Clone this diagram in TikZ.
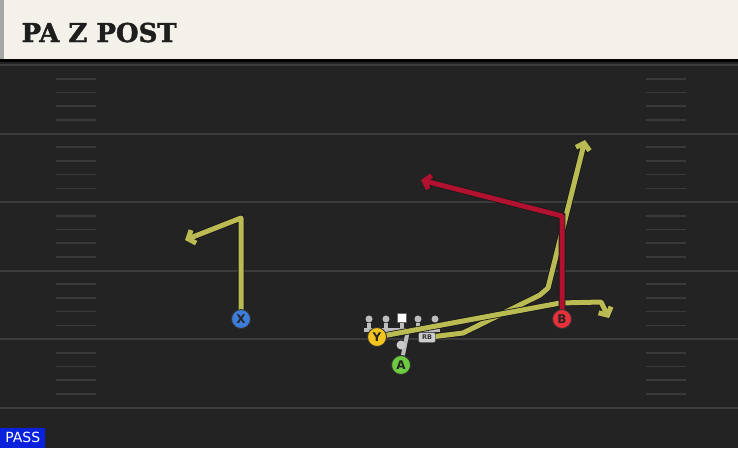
\documentclass[tikz,border=0pt]{standalone}
\usepackage{fontspec}
\setmainfont{DejaVu Sans}
\newfontfamily\titlefont{DejaVu Serif}[BoldFeatures={FakeBold=1.6}]
\usetikzlibrary{arrows.meta}
\definecolor{field}{HTML}{232323}
\definecolor{yard}{HTML}{3C3C3C}
\definecolor{hashc}{HTML}{3A3A3A}
\definecolor{header}{HTML}{F4F1EA}
\definecolor{titletext}{HTML}{1E1E1E}
\definecolor{routeyel}{HTML}{BBBB54}
\definecolor{routered}{HTML}{B01230}
\definecolor{xblue}{HTML}{3B7DD8}
\definecolor{yyel}{HTML}{F2C41D}
\definecolor{agreen}{HTML}{6CCB3F}
\definecolor{bred}{HTML}{E8303A}
\definecolor{olgray}{HTML}{BDBDBD}
\definecolor{passblue}{HTML}{0A22DC}
\pgfdeclarelayer{bg}
\pgfdeclarelayer{routes}
\pgfsetlayers{bg,routes,main}

\begin{document}
\begin{tikzpicture}[x=1pt,y=-1pt,
  yardline/.style={yard,line width=2pt},
  hashmark/.style={hashc,line width=1.6pt},
  player/.style={circle,draw=black!80,line width=0.9pt,minimum size=19pt,inner sep=0pt,
    font=\bfseries\fontsize{12}{12}\selectfont,text=black!85},
  route/.style={draw=routeyel,line width=5pt,line join=round,
    -{Straight Barb[length=6pt,width=14pt]},preaction={draw=black!90,line width=6.6pt}},
  lineman/.style={circle,fill=olgray,minimum size=7pt,inner sep=0pt},
  formation/.style={olgray,line width=4pt}]
\useasboundingbox (0,0) rectangle (738,448);
% field and header
\begin{pgfonlayer}{bg}
\fill[field] (0,0) rectangle (738,448);
\foreach \y in {65,133.5,202,270.5,339,407.5}
  \draw[yardline] (0,\y) -- (738,\y);
\foreach \y in {65,133.5,202,270.5,339}
  \foreach \k in {1,...,4} {
    \draw[hashmark] (56,\y+13.7*\k) -- (96,\y+13.7*\k);
    \draw[hashmark] (646,\y+13.7*\k) -- (686,\y+13.7*\k);
  }
\fill[header] (0,0) rectangle (738,59);
\fill[black!35] (0,0) rectangle (4,59);
\fill[black] (0,59) rectangle (738,62);
\end{pgfonlayer}
\node[anchor=base west,font=\titlefont\bfseries\fontsize{26}{26}\selectfont,text=titletext] (title) at (18,42) {PA Z POST};
\node[anchor=south west,fill=passblue,text=white,minimum width=45pt,minimum height=20pt,inner sep=0pt,
  font=\fontsize{14}{14}\selectfont] (mode) at (0,448) {PASS};

% formation
\coordinate (bar) at (402,330);
\foreach \x/\n in {369/lt,386/lg,418/rg,435/rt}
  \node[lineman] (\n) at (\x,319) {};
\node[fill=white,draw=black!60,line width=0.5pt,minimum size=9pt,inner sep=0pt] (ctr) at (402,318) {};
\node[circle,fill=olgray!80,minimum size=9pt,inner sep=0pt] (qb) at (401,345) {};
\node[player,fill=xblue] (X) at (241,319) {X};
\node[player,fill=yyel] (Y) at (377,337) {Y};
\node[player,fill=agreen] (A) at (401,365) {A};
\node[player,fill=bred] (B) at (562,319) {B};
\node[rounded corners=2pt,fill=olgray!75,draw=black!70,line width=0.5pt,minimum width=17pt,minimum height=10pt,
  inner sep=0pt,font=\bfseries\fontsize{6.5}{6.5}\selectfont,text=black!80] (RB) at (427,337.5) {RB};
\begin{pgfonlayer}{bg}
\draw[formation] (364,330) -- (440,330);
\foreach \n in {lt,lg,rg,rt}
  \draw[formation] (\n) -- (\n |- bar);
\draw[formation] (ctr) -- (bar);
\draw[formation] (408,330) -- (A);
\end{pgfonlayer}

% routes
\coordinate (x1) at (241,218);
\coordinate (x2) at (185,240);
\coordinate (b1) at (562,216);
\coordinate (b2) at (421,180);
\coordinate (r1) at (463,333);
\coordinate (r2) at (540,295);
\coordinate (r3) at (548,288);
\coordinate (r4) at (585,140);
\coordinate (y1) at (560,303);
\coordinate (y2) at (601,302);
\coordinate (y3) at (609,318);
\begin{pgfonlayer}{routes}
\draw[route] (X.center) -- (x1) -- (x2);
\draw[route] (RB.center) -- (r1) -- (r2) -- (r3) -- (r4);
\draw[route] (Y.center) -- (y1) -- (y2) -- (y3);
\draw[route,draw=routered] (B.center) -- (b1) -- (b2);
\end{pgfonlayer}
\end{tikzpicture}
\end{document}
